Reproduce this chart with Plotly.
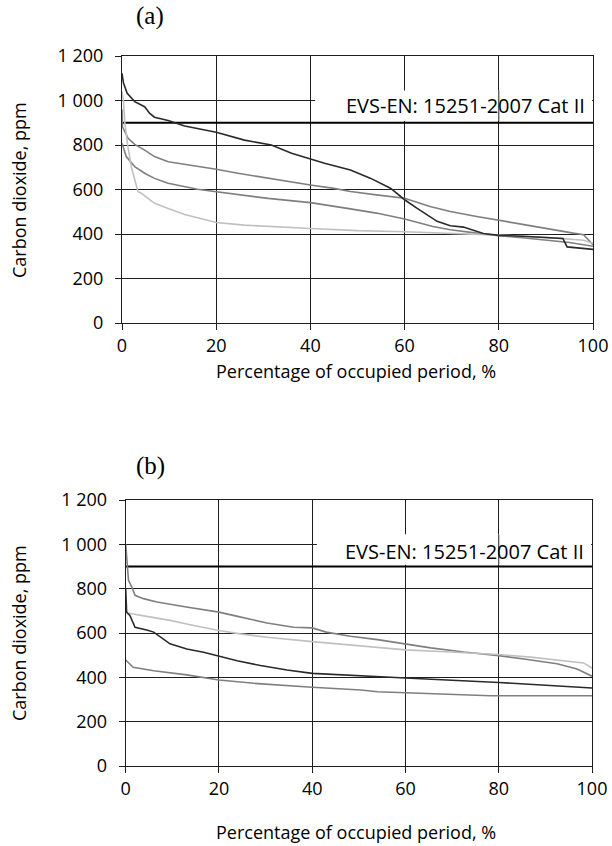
import plotly.graph_objects as go

# ---------------- data ----------------
x_ticks = [0, 20, 40, 60, 80, 100]
y_tickvals = [0, 200, 400, 600, 800, 1000, 1200]
y_ticktext = ["0", "200", "400", "600", "800", "1 000", "1 200"]
limit_x = [0, 100]
limit_y = [900, 900]
limit_label = "EVS-EN: 15251-2007 Cat II"
x_title = "Percentage of occupied period, %"
y_title = "Carbon dioxide, ppm"

# panel (a)
a_dark_x = [0, 0.3, 1.1, 2.7, 4.8, 5.9, 6.9, 9.8, 13.3, 20, 26, 31.7, 36, 40, 43, 48.5, 52.7, 57, 60,
            62.6, 66.9, 69.7, 72.5, 76.7, 80, 85, 90, 93.6, 94.5, 97, 100]
a_dark_y = [1122, 1080, 1032, 995, 972, 942, 925, 910, 885, 857, 822, 800, 763, 736, 718, 688, 651, 606, 554,
            516, 457, 437, 431, 402, 394, 390, 386, 380, 342, 336, 331]
a_mid1_x = [0, 0.1, 1.3, 2.7, 4.8, 6.9, 9.8, 16, 20, 24.6, 31, 40, 45, 48.5, 54, 60, 65.4, 69.7, 75.3,
            80, 85.2, 90.9, 95.8, 98, 100]
a_mid1_y = [960, 882, 830, 803, 777, 748, 725, 706, 691, 673, 650, 620, 605, 591, 576, 561, 524, 501, 479,
            461, 442, 422, 404, 397, 352]
a_mid2_x = [0, 0.9, 2.7, 4.8, 6.9, 9.8, 16, 20, 26, 31, 40, 45, 48.5, 54, 60, 66, 69.7, 75.3, 80, 85, 90, 95, 100]
a_mid2_y = [808, 748, 703, 673, 650, 628, 601, 590, 575, 560, 541, 526, 513, 494, 467, 434, 419, 404, 392, 383,
            372, 362, 345]
a_light_x = [0, 0.3, 0.6, 1.2, 2, 2.8, 3.4, 4.1, 6.9, 9.8, 13.3, 20, 26, 40, 50, 60, 70, 80, 90, 95, 98, 100]
a_light_y = [1040, 1000, 900, 800, 700, 630, 590, 583, 538, 515, 488, 452, 440, 425, 415, 410, 403, 395, 385,
             378, 372, 358]

# panel (b)
b_mid1_x = [0, 0.3, 0.6, 1.3, 2, 3.8, 6.7, 13, 20, 24, 30.3, 36, 40, 43, 48.2, 54, 59.6, 65.4, 72.5, 80,
            85.4, 92.5, 96.8, 99.6, 100]
b_mid1_y = [1000, 920, 838, 808, 770, 755, 740, 717, 694, 675, 645, 626, 623, 604, 585, 570, 552, 533, 514, 498,
            483, 461, 438, 408, 405]
b_light_x = [0.7, 1.3, 4.5, 9.5, 14.6, 20, 24.6, 30.3, 40, 50.4, 60, 69.6, 80, 86.8, 93.9, 98.2, 100]
b_light_y = [690, 687, 675, 657, 634, 611, 596, 581, 561, 543, 524, 514, 503, 491, 476, 465, 442]
b_dark_x = [0, 0.2, 0.9, 2, 4.5, 6, 9.5, 13.1, 16.7, 20, 23.9, 28.9, 34.6, 40, 50.4, 60, 80, 100]
b_dark_y = [800, 694, 679, 626, 614, 604, 551, 528, 513, 495, 475, 453, 433, 418, 406, 397, 377, 352]
b_mid2_x = [0, 1.6, 6, 13.1, 20, 27.5, 40, 50.4, 54, 66.8, 78.2, 100]
b_mid2_y = [478, 445, 430, 411, 388, 373, 355, 343, 335, 327, 317, 317]

# ---------------- style ----------------
DARK = "#2a2a2a"
MID = "#7f7f7f"
LIGHT = "#c0c0c0"
GRID = "#1e1e1e"
FONT = "Open Sans"
W = 612
H = 846

fig = go.Figure()

def add_line(x, y, color, xa, ya, width=1.6):
    fig.add_trace(go.Scatter(x=x, y=y, mode="lines", xaxis=xa, yaxis=ya,
                             line=dict(color=color, width=width), showlegend=False,
                             hoverinfo="skip"))

# panel a traces
add_line(limit_x, limit_y, "#000000", "x", "y", 2.2)
add_line(a_mid2_x, a_mid2_y, MID, "x", "y")
add_line(a_mid1_x, a_mid1_y, MID, "x", "y")
add_line(a_light_x, a_light_y, LIGHT, "x", "y")
add_line(a_dark_x, a_dark_y, DARK, "x", "y")
# panel b traces
add_line(limit_x, limit_y, "#000000", "x2", "y2", 2.2)
add_line(b_mid2_x, b_mid2_y, MID, "x2", "y2")
add_line(b_mid1_x, b_mid1_y, MID, "x2", "y2")
add_line(b_light_x, b_light_y, LIGHT, "x2", "y2")
add_line(b_dark_x, b_dark_y, DARK, "x2", "y2")

def xaxis(domain, anchor):
    return dict(domain=domain, anchor=anchor, range=[0, 100], tickvals=x_ticks,
                showgrid=True, gridcolor=GRID, gridwidth=1, automargin=False,
                showline=True, linecolor=GRID, linewidth=1, mirror=True,
                ticks="outside", ticklen=6, tickcolor=GRID, zeroline=False,
                tickfont=dict(family=FONT, size=18, color="#000"))

def yaxis(domain, anchor):
    return dict(domain=domain, anchor=anchor, range=[0, 1200], tickvals=y_tickvals, ticktext=y_ticktext,
                showgrid=True, gridcolor=GRID, gridwidth=1, automargin=False,
                showline=True, linecolor=GRID, linewidth=1, mirror=True,
                ticks="outside", ticklen=6, tickcolor=GRID, zeroline=False,
                ticklabelstandoff=8,
                tickfont=dict(family=FONT, size=18, color="#000"))

fig.update_layout(
    width=W, height=H,
    margin=dict(l=0, r=0, t=0, b=0, autoexpand=False),
    paper_bgcolor="white", plot_bgcolor="white",
    xaxis=xaxis([122 / W, 593 / W], "y"),
    yaxis=yaxis([1 - 323 / H, 1 - 56 / H], "x"),
    xaxis2=xaxis([125.7 / W, 592 / W], "y2"),
    yaxis2=yaxis([1 - 766 / H, 1 - 500 / H], "x2"),
)

shapes = []
for xr, yr in (("x", "y"), ("x2", "y2")):
    # white label background (covers grid, below traces)
    shapes.append(dict(type="rect", xref=xr, yref=yr, x0=41, x1=99.8, y0=908, y1=1045,
                       fillcolor="white", line=dict(width=0), layer="between"))
    shapes.append(dict(type="line", xref=xr, yref=yr, x0=80, x1=80, y0=908, y1=1045,
                       line=dict(color=GRID, width=1), layer="between"))
fig.update_layout(shapes=shapes)

for xr, yr, yv in (("x", "y", 978), ("x2", "y2", 968)):
    fig.add_annotation(x=98.8, y=yv, xref=xr, yref=yr, text=limit_label, showarrow=False,
                       xanchor="right", yanchor="middle", font=dict(family=FONT, size=20, color="#000"))

# axis titles
for ycen in (190, 633):
    fig.add_annotation(x=19 / W, y=1 - ycen / H, xref="paper", yref="paper", text=y_title,
                       textangle=-90, showarrow=False, xanchor="center", yanchor="middle",
                       font=dict(family=FONT, size=18, color="#000"))
for ycen in (371, 832):
    fig.add_annotation(x=356 / W, y=1 - ycen / H, xref="paper", yref="paper", text=x_title,
                       showarrow=False, xanchor="center", yanchor="middle",
                       font=dict(family=FONT, size=18, color="#000"))

fig.add_annotation(x=150 / W, y=1 - 16 / H, xref="paper", yref="paper", text="(a)", showarrow=False,
                   xanchor="center", yanchor="middle",
                   font=dict(family="Liberation Serif", size=25, color="#000"))
fig.add_annotation(x=150 / W, y=1 - 466 / H, xref="paper", yref="paper", text="(b)", showarrow=False,
                   xanchor="center", yanchor="middle",
                   font=dict(family="Liberation Serif", size=25, color="#000"))

fig.write_html("out.html", config={"displayModeBar": False},
               post_script="document.body.style.margin='0';document.body.style.padding='0';"
                           "document.documentElement.style.overflow='hidden';")
